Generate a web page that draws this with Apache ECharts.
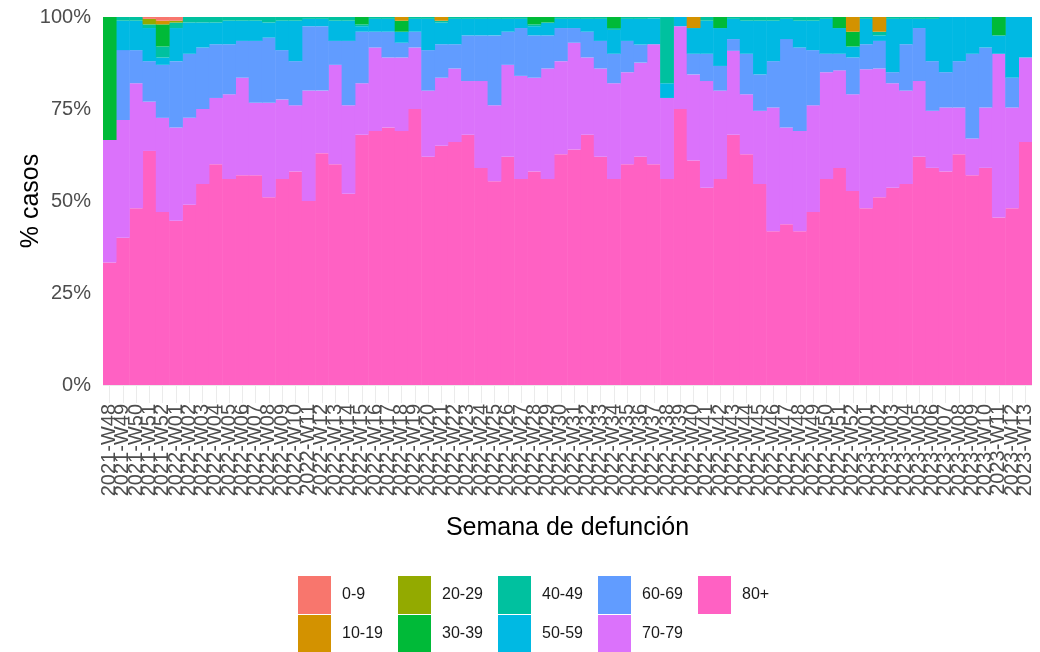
<!DOCTYPE html>
<html>
<head>
<meta charset="utf-8">
<script src="https://cdn.jsdelivr.net/npm/echarts@6/dist/echarts.min.js"></script>
<style>
html,body{margin:0;padding:0;background:#fff;}
#chart{width:1040px;height:652px;}
</style>
</head>
<body>
<div id="chart"></div>
<script>
// Week categories (x axis tick labels)
const weeks = [
"2021-W48","2021-W49","2021-W50","2021-W51","2021-W52",
"2022-W01","2022-W02","2022-W03","2022-W04","2022-W05","2022-W06","2022-W07","2022-W08","2022-W09","2022-W10",
"2022-W11","2022-W12","2022-W13","2022-W14","2022-W15","2022-W16","2022-W17","2022-W18","2022-W19","2022-W20",
"2022-W21","2022-W22","2022-W23","2022-W24","2022-W25","2022-W26","2022-W27","2022-W28","2022-W29","2022-W30",
"2022-W31","2022-W32","2022-W33","2022-W34","2022-W35","2022-W36","2022-W37","2022-W38","2022-W39","2022-W40",
"2022-W41","2022-W42","2022-W43","2022-W44","2022-W45","2022-W46","2022-W47","2022-W48","2022-W49","2022-W50",
"2022-W51","2022-W52",
"2023-W01","2023-W02","2023-W03","2023-W04","2023-W05","2023-W06","2023-W07","2023-W08","2023-W09","2023-W10",
"2023-W11","2023-W12","2023-W13"
];

// Age groups (legend order, column-major in a 2-row legend)
const ageGroups = ["0-9","10-19","20-29","30-39","40-49","50-59","60-69","70-79","80+"];

// Percent of cases per week, one array per age group
const p80plus = [33.3,40,48,63.6,47,44.6,49,54.6,60,56,57,57,51,56,58,50,63,60,52,68,69,70,69,75,62,65,66,68,59,55.4,62,56,58,56,62.7,64,68,62,56,60,62,60,56,75,61,53.6,56,68,62.7,54.6,41.8,43.7,41.8,47,56,59,52.7,48,51,53.6,54.6,62,59,58,62.7,57,59,45.5,48,66];
const p70_79 = [33.3,32,34,13.4,25.6,25.4,23.6,20.4,18,23,26.5,19.7,25.7,21.6,18,30,17,27,24,14,22.7,19,20,16.7,18,18.5,20,14.6,23.6,20.6,25,28,25.5,30,25.3,29,21,24,26,25,25.6,32.6,22,22.5,23.4,29,24,22.8,16.3,19.9,33.6,26.3,27.2,29,29,26.5,26.3,37.8,35,28.4,25.4,20.6,15.5,17.4,12.7,10,16.4,44.5,27.4,23];
const p60_69 = [0,19,9,11,14.4,18,17.4,16.7,14.6,13.6,10,16.8,17.7,13.4,12,17.5,17.5,6.5,17.5,14,4.3,7,4,4.3,11,9.1,6.6,12.4,12.4,19,9,13,11.5,9,9,4,7,7.5,8,8.5,4.9,0,0,0,5.6,7.4,6.7,3.2,11,9.9,12.6,24,22.7,15,5,4.5,10,6.8,7.5,3,12.6,14.4,13.5,9.6,12.6,23,16.3,0,8.1,0];
const p50_59 = [0,8,8,9,2,9,8.5,6.8,5.9,6.4,5.5,5.5,4.1,8,11,2,2,5.5,5.5,1.5,3.5,3.5,3,3.5,8.5,5.9,6.9,4.5,4.5,4.5,3.5,2.5,2.5,3.5,2.5,2.5,3.5,6,6.5,6,7,7,4,2.5,7,9,10.3,5.5,9,14.6,11,5.5,7.3,8,9.5,7,3,6.9,1.5,14.5,6.9,2.5,11.5,15,12,10,8.3,5,16.5,11];
const p40_49 = [0,1,1,1,3,1.5,1.5,1.5,1.5,1,1,1,1.5,1,1,0.5,0.5,1,1,0.5,0.5,0.5,0,0.5,0.5,0.5,0.5,0.5,0.5,0.5,0.5,0.5,0.5,0,0.5,0.5,0.5,0.5,0.5,0.5,0.5,0.4,18,0,0,1,0,0.5,1,1,1,0.5,1,1,0.5,0,0,0.5,1,0.5,0.5,0.5,0.5,0,0,0,0,0,0,0];
const p30_39 = [33.4,0,0,0,6,0,0,0,0,0,0,0,0,0,0,0,0,0,0,2,0,0,3,0,0,0,0,0,0,0,0,0,2,1.5,0,0,0,0,3,0,0,0,0,0,0,0,3,0,0,0,0,0,0,0,0,3,4,0,0,0,0,0,0,0,0,0,0,5,0,0];
const p20_29 = [0,0,0,1.5,0,0.5,0,0,0,0,0,0,0,0,0,0,0,0,0,0,0,0,0,0,0,0,0,0,0,0,0,0,0,0,0,0,0,0,0,0,0,0,0,0,0,0,0,0,0,0,0,0,0,0,0,0,0,0,0,0,0,0,0,0,0,0,0,0,0,0];
const p10_19 = [0,0,0,0,1,0,0,0,0,0,0,0,0,0,0,0,0,0,0,0,0,0,1,0,0,1,0,0,0,0,0,0,0,0,0,0,0,0,0,0,0,0,0,0,3,0,0,0,0,0,0,0,0,0,0,0,4,0,4,0,0,0,0,0,0,0,0,0,0,0];
const p0_9 = [0,0,0,0.5,1,1,0,0,0,0,0,0,0,0,0,0,0,0,0,0,0,0,0,0,0,0,0,0,0,0,0,0,0,0,0,0,0,0,0,0,0,0,0,0,0,0,0,0,0,0,0,0,0,0,0,0,0,0,0,0,0,0,0,0,0,0,0,0,0,0];

const yTicks = [0,25,50,75,100];

const colors = {
  "0-9":"#F8766D","10-19":"#D39200","20-29":"#93AA00","30-39":"#00BA38","40-49":"#00C19F",
  "50-59":"#00B9E3","60-69":"#619CFF","70-79":"#DB72FB","80+":"#FF61C3"
};
const seriesData = {
  "80+":p80plus,"70-79":p70_79,"60-69":p60_69,"50-59":p50_59,"40-49":p40_49,
  "30-39":p30_39,"20-29":p20_29,"10-19":p10_19,"0-9":p0_9
};
// bottom-to-top stacking order
const stackOrder = ["80+","70-79","60-69","50-59","40-49","30-39","20-29","10-19","0-9"];

const series = stackOrder.map(name => ({
  name: name,
  type: 'bar',
  stack: 'total',
  barWidth: 13.8,
  barCategoryGap: '0%',
  itemStyle: { color: colors[name] },
  emphasis: { disabled: true },
  // zero shares are left empty so they draw nothing
  data: seriesData[name].map(v => (v === 0 ? '-' : v))
}));

const FONT = 'Liberation Sans, Arial, Helvetica, sans-serif';
// one legend block per age group: 5 columns x 2 rows, filled column by column
const legends = ageGroups.map((name, k) => ({
  orient: 'horizontal',
  left: 298 + 100 * Math.floor(k / 2),
  top: k % 2 === 0 ? 576 : 615,
  padding: 0,
  itemWidth: 33,
  itemHeight: 38,
  icon: 'rect',
  selectedMode: false,
  data: [{ name: name, itemStyle: { color: colors[name] } }],
  formatter: '{t|{name}}',
  textStyle: {
    fontFamily: FONT, fontSize: 16, color: '#1a1a1a',
    rich: { t: { fontFamily: FONT, fontSize: 16, color: '#1a1a1a', padding: [0, 0, 0, 6] } }
  }
}));

const chart = echarts.init(document.getElementById('chart'), null, {renderer: 'canvas'});
chart.setOption({
  animation: false,
  backgroundColor: '#fff',
  color: stackOrder.map(n => colors[n]),
  grid: { left: 103, right: 8, top: 17, bottom: 267, containLabel: false, outerBoundsMode: 'none' },
  legend: legends,
  xAxis: {
    type: 'category',
    data: weeks,
    boundaryGap: true,
    name: 'Semana de defunción',
    nameLocation: 'middle',
    nameGap: 131,
    nameMoveOverlap: false,
    nameTextStyle: { fontFamily: FONT, fontSize: 25, color: '#000' },
    axisLine: { show: false },
    axisTick: { show: true, alignWithLabel: true, length: 18, lineStyle: { color: '#ebebeb', width: 1 } },
    axisLabel: {
      interval: 0, rotate: 90, margin: 19, hideOverlap: false,
      fontFamily: FONT, fontSize: 20, color: '#4d4d4d'
    },
    splitLine: { show: false }
  },
  yAxis: {
    type: 'value',
    min: 0, max: 100, interval: 25,
    name: '% casos',
    nameLocation: 'middle',
    nameGap: 59,
    nameMoveOverlap: false,
    nameRotate: 90,
    nameTextStyle: { fontFamily: FONT, fontSize: 25, color: '#000' },
    axisLine: { show: false },
    axisTick: { show: false },
    axisLabel: {
      formatter: v => (yTicks.indexOf(v) >= 0 ? v + '%' : ''),
      fontFamily: FONT, fontSize: 20, color: '#4d4d4d', margin: 12
    },
    splitLine: { show: true, lineStyle: { color: '#ebebeb' } }
  },
  series: series
});
</script>
</body>
</html>
